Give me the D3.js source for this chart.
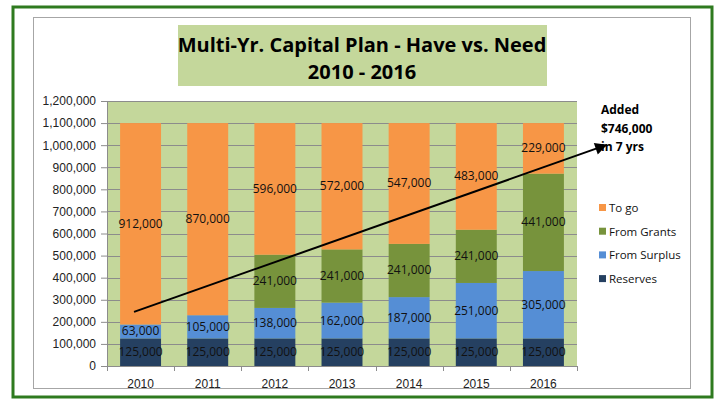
<html>
<head>
<style>
  body { margin: 0; background: #fff; }
  text { font-family: "Open Sans", "Liberation Sans", sans-serif; }
</style>
</head>
<body>
<svg id="chart" width="715" height="400"></svg>
<script src="https://d3js.org/d3.v7.min.js"></script>
<script>
  const years = ["2010", "2011", "2012", "2013", "2014", "2015", "2016"]
  const reserves = [125000, 125000, 125000, 125000, 125000, 125000, 125000]
  const fromSurplus = [63000, 105000, 138000, 162000, 187000, 251000, 305000]
  const fromGrants = [0, 0, 241000, 241000, 241000, 241000, 441000]
  const toGo = [912000, 870000, 596000, 572000, 547000, 483000, 229000]
  const yTicks = [0, 100000, 200000, 300000, 400000, 500000, 600000, 700000, 800000, 900000, 1000000, 1100000, 1200000]
  const seriesNames = ["Reserves", "From Surplus", "From Grants", "To go"]
  const colors = ["#254061", "#558ED5", "#77933C", "#F79646"]
  const titleLines = ["Multi-Yr. Capital Plan - Have vs. Need", "2010 - 2016"]
  const noteLines = ["Added", "$746,000", "in 7 yrs"]
  // arrow start / end values
  const arrowFrom = 245000, arrowTo = 1000000

  let svg = d3.select("#chart")

  // outer frame and inner chart border
  svg.append("rect").attr("x", 13).attr("y", 7).attr("width", 699).attr("height", 390)
    .attr("fill", "none").attr("stroke", "#2E7A1F").attr("stroke-width", 3)
  svg.append("rect").attr("x", 33.5).attr("y", 17.5).attr("width", 657).attr("height", 371)
    .attr("fill", "none").attr("stroke", "#A6A6A6").attr("stroke-width", 1)

  // title box
  svg.append("rect").attr("x", 178).attr("y", 25).attr("width", 369).attr("height", 61).attr("fill", "#C4D79B")
  svg.append("g").selectAll("text").data(titleLines).join("text")
    .attr("x", 362).attr("y", (d, i) => 52 + i * 27)
    .attr("text-anchor", "middle").attr("font-size", 20).attr("font-weight", "bold").attr("fill", "#000")
    .text(d => d)

  let plotLeft = 107, plotRight = 577, plotTop = 101, plotBottom = 366

  let x = d3.scaleBand().domain(years).range([plotLeft, plotRight]).paddingInner(0.39).paddingOuter(0.195)
  let xEdge = d3.scaleLinear().domain([0, years.length]).range([plotLeft, plotRight])
  let y = d3.scaleLinear().domain([0, 1200000]).range([plotBottom, plotTop])

  // plot background
  svg.append("rect").attr("x", plotLeft).attr("y", plotTop).attr("width", plotRight - plotLeft)
    .attr("height", plotBottom - plotTop).attr("fill", "#C4D79B")

  // gridlines
  svg.append("g").selectAll("line").data(yTicks.slice(1)).join("line")
    .attr("x1", plotLeft).attr("x2", plotRight)
    .attr("y1", d => Math.round(y(d)) + 0.5).attr("y2", d => Math.round(y(d)) + 0.5)
    .attr("stroke", "#8C8C8C").attr("stroke-width", 1)

  // stacked data
  let table = years.map((yr, i) => ({ year: yr, "Reserves": reserves[i], "From Surplus": fromSurplus[i], "From Grants": fromGrants[i], "To go": toGo[i] }))
  let stacked = d3.stack().keys(seriesNames)(table)

  let layers = svg.append("g").selectAll("g").data(stacked).join("g")
    .attr("fill", (d, i) => colors[i])
  layers.selectAll("rect").data(d => d).join("rect")
    .attr("x", d => x(d.data.year))
    .attr("width", x.bandwidth())
    .attr("y", d => y(d[1]))
    .attr("height", d => y(d[0]) - y(d[1]))

  // value labels
  let labels = svg.append("g")
  stacked.forEach(layer => {
    labels.selectAll(null).data(layer.filter(d => d[1] - d[0] > 0)).join("text")
      .attr("x", d => x(d.data.year) + x.bandwidth() / 2)
      .attr("y", d => (y(d[0]) + y(d[1])) / 2 + 4)
      .attr("text-anchor", "middle").attr("font-size", 12).attr("fill", "#111")
      .text(d => d3.format(",")(d[1] - d[0]))
  })

  // y axis
  let yAxis = d3.axisLeft(y).tickValues(yTicks).tickSize(6).tickPadding(5).tickFormat(d3.format(","))
  let yg = svg.append("g").attr("transform", `translate(${plotLeft},0)`).call(yAxis)
  yg.select(".domain").attr("stroke", "#8C8C8C")
  yg.selectAll(".tick line").attr("stroke", "#8C8C8C")
  yg.selectAll(".tick text").attr("font-size", 12).attr("fill", "#222").style("font-family", "'Liberation Sans', sans-serif")

  // x axis
  let xAxis = d3.axisBottom(x).tickSize(0).tickPadding(13)
  let xg = svg.append("g").attr("transform", `translate(0,${plotBottom})`).call(xAxis)
  xg.select(".domain").remove()
  xg.selectAll(".tick text").attr("font-size", 12).attr("fill", "#222").style("font-family", "'Liberation Sans', sans-serif")
  svg.append("line").attr("x1", plotLeft).attr("x2", plotRight).attr("y1", plotBottom + 0.5).attr("y2", plotBottom + 0.5).attr("stroke", "#8C8C8C")
  svg.append("g").selectAll("line").data(d3.range(years.length + 1)).join("line")
    .attr("x1", d => Math.round(xEdge(d)) + 0.5).attr("x2", d => Math.round(xEdge(d)) + 0.5)
    .attr("y1", plotBottom).attr("y2", plotBottom + 5).attr("stroke", "#8C8C8C")

  // legend
  let legend = svg.append("g").selectAll("g").data(seriesNames.slice().reverse()).join("g")
    .attr("transform", (d, i) => `translate(599,${204 + i * 23.7})`)
  legend.append("rect").attr("width", 7).attr("height", 7).attr("fill", d => colors[seriesNames.indexOf(d)])
  legend.append("text").attr("x", 10).attr("y", 8).attr("font-size", 11.5).attr("fill", "#111").text(d => d)

  // arrow annotation
  svg.append("defs").append("marker").attr("id", "head")
    .attr("viewBox", "0 0 10 10").attr("refX", 9).attr("refY", 5)
    .attr("markerWidth", 7).attr("markerHeight", 6).attr("orient", "auto")
    .append("path").attr("d", "M0,0 L10,5 L0,10 z").attr("fill", "#000")
  svg.append("line")
    .attr("x1", x("2010") + x.bandwidth() * 0.34).attr("y1", y(arrowFrom))
    .attr("x2", 606).attr("y2", y(arrowTo))
    .attr("stroke", "#000").attr("stroke-width", 2).attr("marker-end", "url(#head)")

  svg.append("g").selectAll("text").data(noteLines).join("text")
    .attr("x", 601).attr("y", (d, i) => 114 + i * 18.5)
    .attr("font-size", 12).attr("font-weight", "bold").attr("fill", "#000")
    .text(d => d)
</script>
</body>
</html>
